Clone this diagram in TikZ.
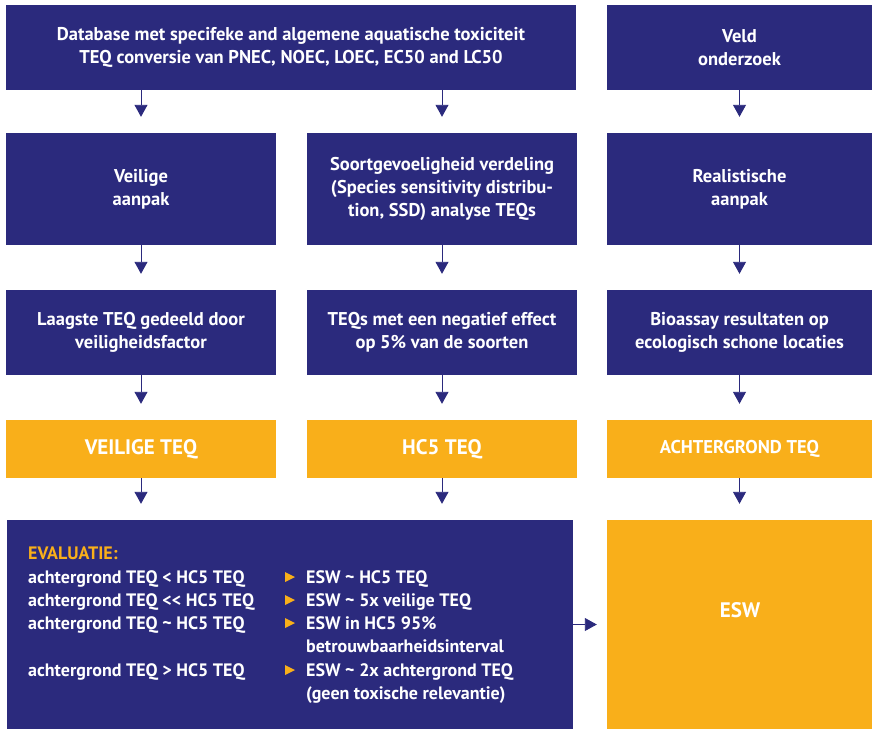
\documentclass[tikz,border=0pt]{standalone}
\usepackage{fontspec}
\setmainfont{PT Sans}
\usetikzlibrary{arrows.meta,positioning}
\definecolor{navy}{HTML}{2B2A7D}
\definecolor{amber}{HTML}{F9AF1A}
\tikzset{
  box/.style={fill=navy,text=white,inner sep=0pt,align=center,
    font=\bfseries\fontsize{18.5}{23}\selectfont},
  teqbox/.style={fill=amber,text=white,inner sep=0pt,align=center,
    font=\bfseries\fontsize{21}{23}\selectfont},
  evtext/.style={anchor=base west,inner sep=0pt,text=white,
    font=\bfseries\fontsize{18}{23}\selectfont},
  flow/.style={navy,line width=0.9pt,shorten >=16pt,
    -{Triangle[width=13pt,length=12pt]}},
}
\begin{document}
\begin{tikzpicture}[x=1pt,y=-1pt]
\useasboundingbox (0,0) rectangle (874,729);

%row 1
\node[box,minimum width=570pt,minimum height=85pt] (db) at (291,47.5)
  {Database met specifeke and algemene aquatische toxiciteit\\TEQ conversie van PNEC, NOEC, LOEC, EC50 and LC50};
\node[box,minimum width=265pt,minimum height=85pt] (veld) at (739.5,47.5) {Veld\\onderzoek};

%row 2
\node[box,minimum width=270pt,minimum height=112pt] (veilig) at (141,189) {Veilige\\aanpak};
\node[box,minimum width=270pt,minimum height=112pt] (ssd) at (442,189)
  {Soortgevoeligheid verdeling\\(Species sensitivity distribu-\\tion, SSD) analyse TEQs};
\node[box,minimum width=265pt,minimum height=112pt] (realist) at (739.5,189) {Realistische\\aanpak};

%row 3
\node[box,minimum width=270pt,minimum height=85pt] (laagst) at (141,332.5) {Laagste TEQ gedeeld door\\veiligheidsfactor};
\node[box,minimum width=270pt,minimum height=85pt] (negeff) at (442,332.5) {TEQs met een negatief effect\\op 5\% van de soorten};
\node[box,minimum width=265pt,minimum height=85pt] (bioassay) at (739.5,332.5) {Bioassay resultaten op\\ecologisch schone locaties};

%row 4
\node[teqbox,minimum width=270pt,minimum height=58pt] (veiligteq) at (141,449) {VEILIGE TEQ};
\node[teqbox,minimum width=270pt,minimum height=58pt] (hcteq) at (442,449) {HC5 TEQ};
\node[teqbox,minimum width=265pt,minimum height=58pt,font=\bfseries\fontsize{18.5}{23}\selectfont] (achterteq) at (739.5,449) {ACHTERGROND TEQ};

%row 5
\node[box,minimum width=566pt,minimum height=209pt] (eval) at (290,624.5) {};
\node[fill=amber,inner sep=0pt,minimum width=265pt,minimum height=209pt] (esw) at (739.5,624.5) {};
\node[teqbox,fill=none] (eswtxt) at (740,610) {ESW};

\node[evtext,text=amber] (evtitle) at (28,559) {EVALUATIE:};
\node[evtext] (lt) at (28,583) {achtergrond TEQ < HC5 TEQ};
\node[evtext] (llt) at (28,606) {achtergrond TEQ <{}< HC5 TEQ};
\node[evtext] (sim) at (28,629) {achtergrond TEQ \textasciitilde{} HC5 TEQ};
\node[evtext] (gt) at (28,676) {achtergrond TEQ > HC5 TEQ};

\node[evtext] (eswlt) at (306,583) {ESW \textasciitilde{} HC5 TEQ};
\node[evtext] (eswllt) at (306,606) {ESW \textasciitilde{} 5x veilige TEQ};
\node[evtext] (eswsim) at (306,629) {ESW in HC5 95\%};
\node[evtext] (eswsimb) at (306,652) {betrouwbaarheidsinterval};
\node[evtext] (eswgt) at (306,676) {ESW \textasciitilde{} 2x achtergrond TEQ};
\node[evtext] (eswgtb) at (306,699) {(geen toxische relevantie)};

\foreach \yb in {583,606,629,676}
  \fill[amber] (285,\yb-11) -- (295,\yb-6) -- (285,\yb-1) -- cycle;

%arrows
\draw[flow] (db.south -| veilig.north) -- (veilig.north);
\draw[flow] (db.south -| ssd.north) -- (ssd.north);
\draw[flow] (veld) -- (realist);
\draw[flow] (veilig) -- (laagst);
\draw[flow] (ssd) -- (negeff);
\draw[flow] (realist) -- (bioassay);
\draw[flow] (laagst) -- (veiligteq);
\draw[flow] (negeff) -- (hcteq);
\draw[flow] (bioassay) -- (achterteq);
\draw[flow] (veiligteq) -- (veiligteq.south |- eval.north);
\draw[flow] (hcteq) -- (hcteq.south |- eval.north);
\draw[flow] (achterteq) -- (esw);
\draw[flow,shorten >=10pt] (eval) -- (esw);

\end{tikzpicture}
\end{document}
